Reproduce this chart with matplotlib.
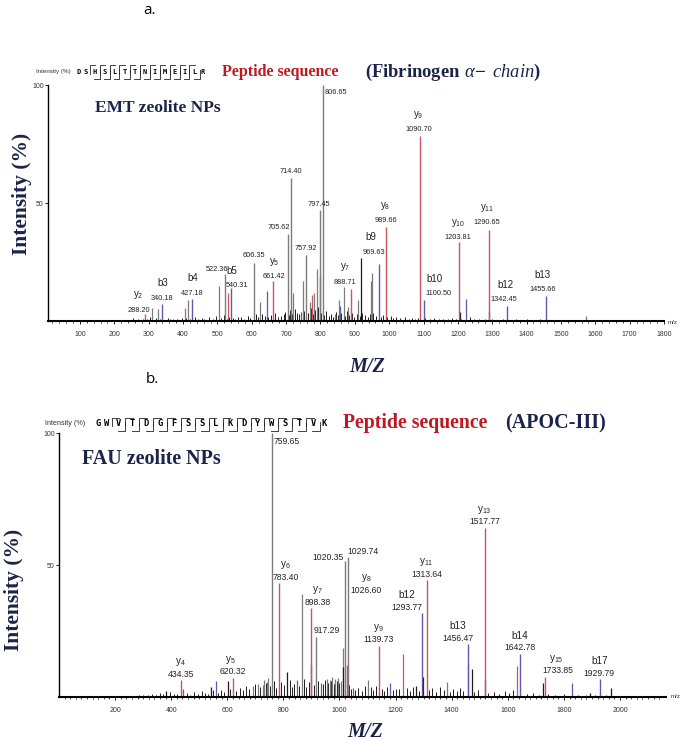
import matplotlib
matplotlib.use("Agg")
import matplotlib.pyplot as plt
from matplotlib import font_manager
from matplotlib.lines import Line2D
import numpy as np

# ---- panel a: EMT zeolite NPs, Fibrinogen alpha-chain ----
emt_mz = [288.20, 340.18, 427.18, 522.36, 540.31, 606.35, 661.42, 705.62, 714.40,
          757.92, 797.45, 806.65, 888.71, 969.63, 989.66, 1090.70, 1100.50,
          1203.81, 1290.65, 1342.45, 1455.66]
emt_int = [2.8, 7, 9.3, 20, 14, 24.5, 17, 36.9, 60.6, 28, 47, 100, 13.5, 24, 40,
           78.4, 9, 33.6, 38.6, 6.5, 10.6]
emt_ion = ["y2", "b3", "b4", "", "b5", "", "y5", "", "", "", "", "", "y7", "b9",
           "y8", "y9", "b10", "y10", "y11", "b12", "b13"]

emt_gray_mz = [309, 328, 415, 506, 625, 720, 749, 770, 781, 789, 842, 854, 868,
               880, 909, 947, 950, 1573]
emt_gray_int = [5.5, 5, 9, 15, 8, 12, 17, 8, 12, 22, 3, 9, 14.6, 6, 9, 17, 20.5, 2]
emt_dark_mz = [800, 918, 1205, 1292]
emt_dark_int = [18.6, 26.7, 4, 4.4]
emt_red_mz = [405, 530, 776]
emt_red_int = [5.5, 12, 11]
emt_blue_mz = [643, 743, 857, 1225]
emt_blue_int = [12.7, 4, 6.4, 9.3]
emt_noise_mz = [255, 262, 268, 276, 283, 296, 303, 315, 322, 334, 347, 355, 362,
                372, 383, 391, 398, 410, 420, 436, 445, 455, 462, 475, 488, 497,
                512, 518, 528, 535, 545, 552, 560, 570, 578, 588, 596, 612, 618,
                630, 638, 648, 655, 668, 676, 684, 693, 698, 708, 712, 718, 726,
                733, 738, 752, 765, 772, 778, 785, 792, 803, 810, 816, 824, 832,
                838, 846, 850, 860, 872, 878, 884, 893, 898, 905, 914, 922, 930,
                938, 944, 954, 962, 976, 982, 995, 1004, 1012, 1020, 1032, 1045,
                1058, 1066, 1075, 1085, 1105, 1118, 1130, 1145, 1158, 1170, 1182,
                1196, 1210, 1220, 1235, 1248, 1262, 1278, 1300, 1318, 1332, 1350,
                1368, 1385, 1400, 1420, 1440, 1462, 1485, 1510, 1530, 1555, 1590,
                1620, 1650]
emt_noise_int = [1.2, 0.6, 0.8, 0.5, 1.0, 0.7, 1.5, 0.6, 1.1, 0.8, 0.6, 1.3, 0.9,
                 0.7, 1.0, 0.6, 1.4, 1.2, 0.9, 1.6, 0.8, 1.1, 0.7, 1.5, 0.9, 2.0,
                 1.2, 2.5, 0.9, 1.8, 1.1, 0.8, 1.6, 1.9, 1.0, 2.2, 1.4, 2.8, 1.5,
                 3.0, 2.1, 1.8, 2.6, 3.4, 1.9, 2.3, 3.1, 4.0, 2.5, 4.5, 3.0, 5.0,
                 3.6, 2.8, 4.2, 3.3, 5.5, 2.9, 4.8, 6.0, 3.5, 2.6, 4.1, 2.2, 3.0,
                 1.8, 3.8, 2.4, 3.2, 2.0, 4.4, 2.7, 3.5, 1.9, 2.9, 2.2, 3.6, 2.5,
                 1.8, 2.8, 3.2, 2.0, 1.6, 2.4, 1.5, 2.1, 1.3, 1.9, 1.2, 1.6, 1.0,
                 1.4, 0.9, 1.2, 1.1, 0.8, 1.3, 0.9, 1.0, 0.7, 1.2, 0.8, 1.0, 0.6,
                 1.5, 0.9, 0.7, 1.0, 0.8, 0.6, 0.9, 0.5, 0.7, 0.6, 0.8, 0.5, 0.7,
                 0.5, 0.6, 0.5, 0.6, 0.5, 0.4, 0.5, 0.4]

# ---- panel b: FAU zeolite NPs, APOC-III ----
fau_mz = [434.35, 620.32, 759.65, 783.40, 898.38, 917.29, 1020.35, 1029.74,
          1026.60, 1139.73, 1293.77, 1313.64, 1456.47, 1517.77, 1642.78, 1733.85,
          1929.79]
fau_int = [6.4, 7.2, 100, 43, 33.6, 22.8, 51.5, 53, 12, 19.5, 31.7, 44.3, 20,
           64.1, 16.3, 7.7, 6.8]
fau_ion = ["y4", "y5", "", "y6", "y7", "", "", "", "y8", "y9", "b12", "y11",
           "b13", "y13", "b14", "y15", "b17"]

fau_gray_mz = [690, 710, 728, 731, 742, 746, 865, 955, 965, 975, 985, 995, 1005,
               1014, 1103, 1382]
fau_gray_int = [4, 5, 4.5, 6.5, 5.5, 7.3, 38.9, 7, 6.5, 7.5, 6.8, 7.2, 6, 18.6,
                6.4, 5.8]
fau_dark_mz = [381, 541, 601, 814, 900, 1011, 1273, 1299, 1471, 1520, 1727, 1893,
               1968]
fau_dark_int = [2.4, 3.8, 6, 9.6, 12.3, 11.5, 4.2, 7.6, 10.6, 6.4, 5.2, 1.5, 3.4]
fau_red_mz = [1225, 1457, 1632]
fau_red_int = [16.3, 13, 11.7]
fau_blue_mz = [443, 559, 847, 933, 1047, 1180, 1829]
fau_blue_int = [3, 6, 6.4, 5.3, 3.5, 5.4, 5.2]
fau_noise_mz = [285, 300, 318, 332, 345, 360, 372, 395, 410, 422, 455, 468, 480,
                495, 510, 522, 532, 550, 568, 578, 590, 610, 632, 645, 655, 668,
                678, 698, 718, 738, 752, 768, 775, 792, 802, 822, 830, 838, 855,
                872, 880, 890, 908, 925, 940, 948, 960, 970, 980, 990, 1000, 1035,
                1040, 1055, 1065, 1080, 1092, 1112, 1120, 1130, 1150, 1160, 1170,
                1190, 1200, 1212, 1240, 1250, 1262, 1285, 1320, 1330, 1345, 1360,
                1372, 1395, 1405, 1418, 1430, 1442, 1480, 1495, 1530, 1550, 1570,
                1590, 1605, 1620, 1645, 1670, 1690, 1710, 1745, 1770, 1800, 1850,
                1880, 1910, 1950, 1990, 2030]
fau_noise_int = [0.6, 0.9, 0.7, 1.2, 0.8, 1.5, 1.0, 2.0, 1.3, 1.1, 1.6, 0.9, 1.8,
                 1.2, 2.2, 1.4, 1.0, 2.5, 1.6, 2.8, 1.9, 3.2, 2.1, 3.5, 2.6, 4.1,
                 3.0, 4.8, 3.6, 5.2, 4.0, 6.1, 3.5, 5.5, 4.6, 6.4, 3.8, 5.0, 4.2,
                 6.8, 3.9, 5.6, 4.4, 6.0, 5.1, 6.6, 5.4, 6.2, 4.8, 5.9, 5.3, 4.6,
                 3.1, 2.5, 3.4, 2.2, 4.0, 3.6, 2.8, 4.3, 3.0, 2.4, 3.8, 2.6, 3.2,
                 2.9, 3.4, 2.1, 3.7, 2.3, 2.8, 3.3, 2.0, 3.9, 2.6, 1.9, 3.0, 2.4,
                 3.5, 2.1, 1.8, 2.6, 1.5, 1.9, 1.2, 2.2, 1.4, 2.8, 1.6, 1.1, 1.5,
                 0.9, 1.2, 0.8, 1.0, 0.7, 0.9, 0.6, 0.8, 0.5, 0.4]

# ---- look ----
W, H, DPI = 685, 741, 100
RED = "#cc5560"
BLUE = "#5b5cae"
GRAY = "#7c7c7c"
DARK = "#1c1c1c"
NAVY = "#1b2448"
TRED = "#c01820"

try:
    font_manager.findfont("Liberation Sans Narrow", fallback_to_default=False)
    NARROW = "Liberation Sans Narrow"
except ValueError:
    NARROW = "Liberation Sans"

plt.rcParams["mathtext.fontset"] = "custom"
plt.rcParams["mathtext.rm"] = NARROW
plt.rcParams["mathtext.it"] = "Liberation Serif:italic"
plt.rcParams["mathtext.bf"] = "Liberation Serif:bold"

fig = plt.figure(figsize=(W / DPI, H / DPI), dpi=DPI)


def fx(x):
    return x / W


def fy(y):
    return 1 - y / H


def make_axes(left, right, base, top, xlim, major, minor):
    ax = fig.add_axes([fx(left), fy(base), (right - left) / W, (base - top) / H])
    ax.set_xlim(*xlim)
    ax.set_ylim(0, 100)
    for s in ["top", "right"]:
        ax.spines[s].set_visible(False)
    ax.spines["left"].set_linewidth(1.0)
    ax.spines["bottom"].set_linewidth(1.5)
    ax.set_xticks(major)
    ax.set_xticks(minor, minor=True)
    ax.set_yticks([50, 100])
    ax.tick_params(axis="x", which="major", length=2.5, width=0.6, pad=5,
                   labelsize=5, labelcolor="#333333")
    ax.tick_params(axis="x", which="minor", length=1.5, width=0.5)
    ax.tick_params(axis="y", length=2, width=0.6, pad=1, labelsize=5,
                   labelcolor="#333333")
    for t in ax.get_xticklabels() + ax.get_yticklabels():
        t.set_family(NARROW)
    ax.patch.set_alpha(0)
    return ax


def ion_text(name):
    if name.startswith("y"):
        return r"$\mathrm{y}_{\mathrm{%s}}$" % name[1:]
    return name


def draw_peaks(ax, groups):
    for mz, h, c, lw in groups:
        ax.vlines(mz, 0, h, colors=c, lw=lw)


def label_peaks(ax, mz, inten, ions, shifts, fs_val, fs_ion, val_dy, ion_dy):
    for m, h, ion in zip(mz, inten, ions):
        key = ion if ion else "%.2f" % m
        dxv, dxi, dy, ha = shifts.get(key, (0, 0, 0, "center"))
        ax.annotate("%.2f" % m, (m, h), xytext=(dxv, val_dy + dy),
                    textcoords="offset pixels", ha=ha, va="center",
                    fontsize=fs_val, family=NARROW, color="#222222")
        if ion:
            ax.annotate(ion_text(ion), (m, h), xytext=(dxi, ion_dy + dy),
                        textcoords="offset pixels", ha="center", va="center",
                        fontsize=fs_ion, family=NARROW, color="#222222")


def draw_sequence(x0, yc, head, boxed, tail, head_step, box_w, box_h, fs):
    x = x0
    for ch in head:
        fig.text(fx(x), fy(yc), ch, ha="center", va="center", fontsize=fs,
                 family="DejaVu Sans Mono", weight="bold")
        x += head_step
    x -= head_step / 2
    for ch in boxed:
        fig.text(fx(x + box_w / 2), fy(yc), ch, ha="center", va="center",
                 fontsize=fs, family="DejaVu Sans Mono", weight="bold")
        t, b = yc - box_h / 2, yc + box_h / 2
        xs = [[x + box_w * 0.55, x, x], [x + box_w, x + box_w, x + box_w * 0.45]]
        ys = [[t, t, yc + box_h * 0.15], [yc - box_h * 0.15, b, b]]
        for lx, ly in zip(xs, ys):
            fig.add_artist(Line2D([fx(v) for v in lx], [fy(v) for v in ly],
                                  transform=fig.transFigure, lw=0.6, color="#222222"))
        x += box_w
    x += head_step / 2
    for ch in tail:
        fig.text(fx(x), fy(yc), ch, ha="center", va="center", fontsize=fs,
                 family="DejaVu Sans Mono", weight="bold")
        x += head_step


# ================= panel a =================
ax1 = make_axes(48, 664, 321, 85, (7, 1793), np.arange(100, 1801, 100),
                np.arange(20, 1800, 20))
draw_peaks(ax1, [
    (emt_noise_mz, emt_noise_int, DARK, 0.7),
    (emt_gray_mz, emt_gray_int, GRAY, 0.9),
    (emt_dark_mz, emt_dark_int, DARK, 0.9),
    (emt_red_mz, emt_red_int, RED, 0.9),
    (emt_blue_mz, emt_blue_int, BLUE, 0.9),
])
emt_col = [RED if i.startswith("y") else BLUE if i.startswith("b") else GRAY
           for i in emt_ion]
ax1.vlines(emt_mz, 0, emt_int, colors=emt_col, lw=1.0)
emt_shift = {
    "y2": (-6, -6, -2, "center"), "522.36": (-8, 0, -2, "center"),
    "b5": (6, 1, -4, "center"), "606.35": (0, 0, 2, "center"),
    "y5": (1, 1, -2, "center"), "705.62": (-9, 0, 0, "center"),
    "806.65": (2, 0, -14, "left"), "y7": (-6, -6, 1, "center"),
    "b9": (-5, -8, 6, "center"), "y9": (-2, -2, 0, "center"),
    "b10": (15, 11, 0, "center"), "y10": (-1, -1, -2, "center"),
    "y11": (-2, -2, 1, "center"), "b12": (-3, -1, 0, "center"),
    "b13": (-3, -3, 0, "center"), "797.45": (-1, 0, 0, "center"),
}
label_peaks(ax1, emt_mz, emt_int, emt_ion, emt_shift, 5.3, 7, 6, 21)

# ================= panel b =================
ax2 = make_axes(59, 666, 697, 433, (0, 2164), np.arange(200, 2001, 200),
                np.arange(20, 2160, 20))
draw_peaks(ax2, [
    (fau_noise_mz, fau_noise_int, DARK, 0.7),
    (fau_gray_mz, fau_gray_int, GRAY, 0.9),
    (fau_dark_mz, fau_dark_int, DARK, 0.9),
    (fau_red_mz, fau_red_int, RED, 0.9),
    (fau_blue_mz, fau_blue_int, BLUE, 0.9),
])
fau_col = [RED if i.startswith("y") else BLUE if i.startswith("b") else GRAY
           for i in fau_ion]
ax2.vlines(fau_mz, 0, fau_int, colors=fau_col, lw=1.0)
fau_shift = {
    "y5": (0, -3, 0, "center"), "759.65": (2, 0, -14, "left"),
    "y6": (7, 7, 0, "center"), "y7": (7, 6, 0, "center"),
    "917.29": (10, 0, 0, "center"), "1020.35": (-2, 0, -2, "right"),
    "1029.74": (0, 0, 0, "left"), "y8": (19, 19, 69, "center"),
    "b12": (-15, -15, 0, "center"), "y11": (-1, -1, 0, "center"),
    "b13": (-10, -10, 0, "center"), "y15": (12, 11, 0, "center"),
    "b17": (-1, -1, 0, "center"),
}
label_peaks(ax2, fau_mz, fau_int, fau_ion, fau_shift, 6.2, 7.2, 6, 18)

# ================= texts =================
fig.text(fx(149), fy(10), "a.", ha="center", va="center", fontsize=11,
         family="Open Sans")
fig.text(fx(152), fy(379), "b.", ha="center", va="center", fontsize=11,
         family="Open Sans")

for x, y, fs in [(53, 72, 4.5), (65, 424, 5.2)]:
    fig.text(fx(x), fy(y), "Intensity (%)", ha="center", va="center",
             fontsize=fs, family=NARROW, color="#333333")

draw_sequence(79, 72, "DS", "HSLTTNIMEIL", "R", 7, 10, 14, 5)
draw_sequence(98, 424, "GW", "VTDGFSSLKDYWSTV", "K", 9, 13.9, 13, 6.3)

serif = "Liberation Serif"
fig.text(fx(222), fy(72), "Peptide sequence", ha="left", va="center",
         fontsize=11.5, family=serif, weight="bold", color=TRED)
fig.text(fx(365), fy(72), r"$\mathbf{(Fibrinogen}$ $\mathit{\alpha\!-\ chain}\mathbf{)}$",
         ha="left", va="center", fontsize=13.3, color=NAVY)
fig.text(fx(343), fy(423), "Peptide sequence", ha="left", va="center",
         fontsize=14.2, family=serif, weight="bold", color=TRED)
fig.text(fx(505), fy(423), "(APOC-III)", ha="left", va="center",
         fontsize=14.5, family=serif, weight="bold", color=NAVY)

fig.text(fx(95), fy(108), "EMT zeolite NPs", ha="left", va="center",
         fontsize=12.5, family=serif, weight="bold", color=NAVY)
fig.text(fx(82), fy(459), "FAU zeolite NPs", ha="left", va="center",
         fontsize=14.4, family=serif, weight="bold", color=NAVY)

for x, y in [(22, 194), (14, 590)]:
    fig.text(fx(x), fy(y), "Intensity (%)", ha="center", va="center",
             rotation=90, fontsize=15.5, family=serif, weight="bold", color=NAVY)
for x, y in [(367, 367), (365, 732)]:
    fig.text(fx(x), fy(y), "M/Z", ha="center", va="center", fontsize=14.5,
             family=serif, weight="bold", style="italic", color=NAVY)
for x, y in [(673, 322), (676, 697)]:
    fig.text(fx(x), fy(y), "m/z", ha="center", va="center", fontsize=4.5,
             family=NARROW, color="#333333")

fig.savefig("out.png", dpi=DPI)
